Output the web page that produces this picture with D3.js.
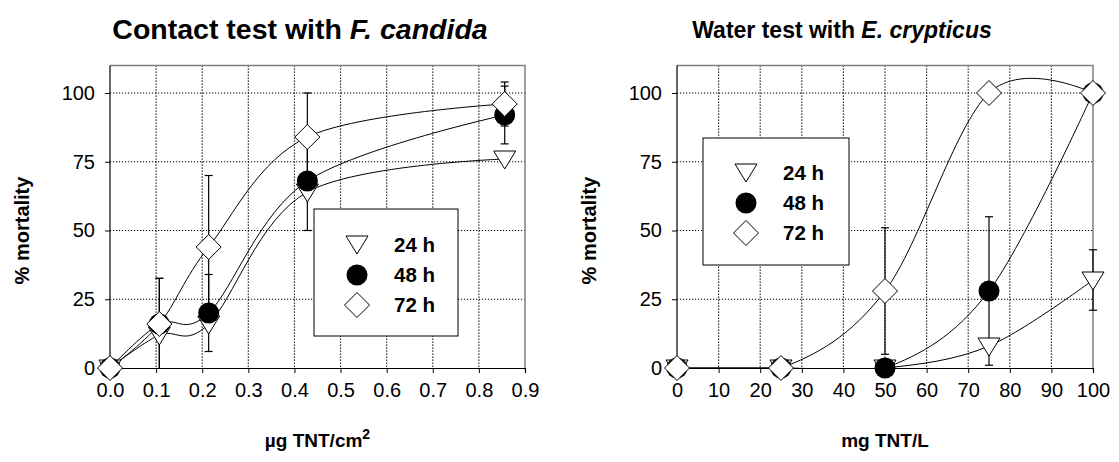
<!DOCTYPE html>
<html>
<head>
<meta charset="utf-8">
<script src="https://cdn.jsdelivr.net/npm/d3@7"></script>
<style>
  body { margin: 0; background: #fff; }
  svg { display: block; font-family: "Liberation Sans", Arial, sans-serif; }
</style>
</head>
<body>
<div id="chart"></div>
<script>
// contact test, F. candida (ug TNT/cm2)
var contactDose = [0, 0.107, 0.214, 0.428, 0.856];
var contact24 = [0, 12, 16, 64, 76];
var contact48 = [0, 16, 20, 68, 92];
var contact72 = [0, 16, 44, 84, 96];
var contactErr24 = [0, 0, 0, 0, 0];
var contactErr48 = [0, 16.6, 14, 18, 10.5];
var contactErr72 = [0, 16.6, 26, 16, 8];

// water test, E. crypticus (mg TNT/L)
var waterDose = [0, 25, 50, 75, 100];
var water24 = [0, 0, 0, 8, 32];
var water48 = [0, 0, 0, 28, 100];
var water72 = [0, 0, 28, 100, 100];
var waterErr24 = [0, 0, 0, 0, 11];
var waterErr48 = [0, 0, 0, 27, 0];
var waterErr72 = [0, 0, 23, 0, 0];

var yTicks = [0, 25, 50, 75, 100];
var contactTicks = [0, 0.1, 0.2, 0.3, 0.4, 0.5, 0.6, 0.7, 0.8, 0.9];
var waterTicks = [0, 10, 20, 30, 40, 50, 60, 70, 80, 90, 100];
var seriesNames = ["24 h", "48 h", "72 h"];

var width = 1119, height = 462;
var svg = d3.select("#chart").append("svg")
    .attr("width", width)
    .attr("height", height);

function marker(g, type, x, y) {
    if (type == 0) {
        // downward triangle
        g.append("path")
            .attr("d", "M" + (x - 11) + "," + (y - 8) + "L" + (x + 11) + "," + (y - 8) + "L" + x + "," + (y + 10) + "Z")
            .attr("fill", "#fff").attr("stroke", "#000").attr("stroke-width", 1);
    } else if (type == 1) {
        g.append("circle")
            .attr("cx", x).attr("cy", y).attr("r", 10.5)
            .attr("fill", "#000");
    } else {
        g.append("path")
            .attr("d", "M" + x + "," + (y - 12.5) + "L" + (x + 12.5) + "," + y + "L" + x + "," + (y + 12.5) + "L" + (x - 12.5) + "," + y + "Z")
            .attr("fill", "#fff").attr("stroke", "#000").attr("stroke-width", 1);
    }
}

function drawPanel(opt) {
    var g = svg.append("g");
    var x = d3.scaleLinear().domain(opt.xDomain).range([opt.left, opt.right]);
    var y = d3.scaleLinear().domain([0, 100]).range([368, 93]);
    var top = y(110);

    // gridlines
    g.selectAll(".vgrid").data(opt.xTicks.slice(1, -1)).enter().append("line")
        .attr("x1", function (d) { return x(d); })
        .attr("x2", function (d) { return x(d); })
        .attr("y1", top).attr("y2", y(0))
        .attr("stroke", "#000").attr("stroke-width", 1.2).attr("stroke-dasharray", "1.2,1.8");
    g.selectAll(".hgrid").data(yTicks.slice(1)).enter().append("line")
        .attr("x1", opt.left).attr("x2", opt.right)
        .attr("y1", function (d) { return y(d); })
        .attr("y2", function (d) { return y(d); })
        .attr("stroke", "#000").attr("stroke-width", 1.2).attr("stroke-dasharray", "1.2,1.8");

    // frame
    g.append("path")
        .attr("d", "M" + opt.left + "," + top + "H" + opt.right + "V" + y(0))
        .attr("fill", "none").attr("stroke", "#808080").attr("stroke-width", 1.5);

    // axes
    var xAxis = g.append("g").attr("transform", "translate(0," + y(0) + ")")
        .call(d3.axisBottom(x).tickValues(opt.xTicks).tickFormat(opt.fmt).tickSize(5).tickPadding(10));
    var yAxis = g.append("g").attr("transform", "translate(" + opt.left + ",0)")
        .call(d3.axisLeft(y).tickValues(yTicks).tickSize(5).tickPadding(10));
    [xAxis, yAxis].forEach(function (a) {
        a.select(".domain").attr("stroke", "#000").attr("stroke-width", 1.2);
        a.selectAll(".tick line").attr("stroke", "#000");
        a.selectAll("text").style("font-size", "20px").attr("fill", "#000")
            .style("font-family", "Liberation Sans, Arial, sans-serif");
    });
    yAxis.select(".domain").attr("d", "M0," + top + "V" + y(0));

    // curves are clipped to the plotting area
    g.append("clipPath").attr("id", "clip" + opt.id)
        .append("rect")
        .attr("x", opt.left).attr("y", top)
        .attr("width", opt.right - opt.left).attr("height", y(0) - top);

    var line = d3.line()
        .x(function (d) { return x(d[0]); })
        .y(function (d) { return y(d[1]); })
        .curve(d3.curveCatmullRom.alpha(0));

    var curves = g.append("g").attr("clip-path", "url(#clip" + opt.id + ")");
    opt.series.forEach(function (s) {
        var pts = opt.dose.map(function (d, i) { return [d, s[i]]; });
        curves.append("path").datum(pts).attr("d", line)
            .attr("fill", "none").attr("stroke", "#000").attr("stroke-width", 1);
    });

    // error bars
    opt.series.forEach(function (s, k) {
        opt.dose.forEach(function (d, i) {
            var e = opt.errs[k][i];
            if (!e) return;
            var cx = x(d);
            g.append("line").attr("x1", cx).attr("x2", cx)
                .attr("y1", y(s[i] + e)).attr("y2", y(Math.max(0, s[i] - e)))
                .attr("stroke", "#000").attr("stroke-width", 1.2);
            [s[i] + e, s[i] - e].forEach(function (v) {
                if (v < 0) return;
                g.append("line").attr("x1", cx - 4).attr("x2", cx + 4)
                    .attr("y1", y(v)).attr("y2", y(v))
                    .attr("stroke", "#000").attr("stroke-width", 1.2);
            });
        });
    });

    // markers
    opt.series.forEach(function (s, k) {
        opt.dose.forEach(function (d, i) {
            marker(g, k, x(d), y(s[i]));
        });
    });

    // titles
    var title = g.append("text")
        .attr("x", opt.titleX).attr("y", opt.titleY)
        .attr("text-anchor", "middle")
        .attr("font-size", opt.titleSize).attr("font-weight", "bold");
    title.append("tspan").text(opt.title[0]);
    title.append("tspan").attr("font-style", "italic").text(opt.title[1]);

    g.append("text")
        .attr("transform", "translate(" + opt.yLabelX + "," + y(50) + ") rotate(-90)")
        .attr("text-anchor", "middle")
        .attr("font-size", 20).attr("font-weight", "bold")
        .text("% mortality");

    var xl = g.append("text")
        .attr("x", (opt.left + opt.right) / 2).attr("y", 447)
        .attr("text-anchor", "middle")
        .attr("font-size", 19).attr("font-weight", "bold");
    xl.append("tspan").text(opt.xLabel[0]);
    if (opt.xLabel[1]) {
        xl.append("tspan").attr("dy", -8).attr("font-size", 14).text(opt.xLabel[1]);
    }

    // legend
    var lg = opt.legend;
    g.append("rect")
        .attr("x", lg.x).attr("y", lg.y).attr("width", lg.w).attr("height", lg.h)
        .attr("fill", "#fff").attr("stroke", "#000").attr("stroke-width", 1);
    seriesNames.forEach(function (n, k) {
        var cy = lg.y + lg.first + k * lg.step;
        marker(g, k, lg.x + lg.sx, k == 0 ? cy - 1 : cy);
        g.append("text")
            .attr("x", lg.x + lg.tx).attr("y", cy + 7)
            .attr("font-size", 20.5).attr("font-weight", "bold")
            .text(n);
    });
}

drawPanel({
    id: "a",
    left: 110, right: 525,
    xDomain: [0, 0.9],
    xTicks: contactTicks,
    fmt: d3.format(".1f"),
    dose: contactDose,
    series: [contact24, contact48, contact72],
    errs: [contactErr24, contactErr48, contactErr72],
    title: ["Contact test with ", "F. candida"],
    titleX: 300,
    titleY: 39,
    titleSize: 28.5,
    yLabelX: 29,
    xLabel: ["\u00b5g TNT/cm", "2"],
    legend: { x: 314, y: 209, w: 144, h: 127, first: 36, step: 30, sx: 43, tx: 80 }
});

drawPanel({
    id: "b",
    left: 677, right: 1093,
    xDomain: [0, 100],
    xTicks: waterTicks,
    fmt: d3.format("d"),
    dose: waterDose,
    series: [water24, water48, water72],
    errs: [waterErr24, waterErr48, waterErr72],
    title: ["Water test with ", "E. crypticus"],
    titleX: 842,
    titleY: 38,
    titleSize: 23,
    yLabelX: 596,
    xLabel: ["mg TNT/L"],
    legend: { x: 703, y: 138, w: 146, h: 127, first: 35, step: 30, sx: 43, tx: 80 }
});
</script>
</body>
</html>
